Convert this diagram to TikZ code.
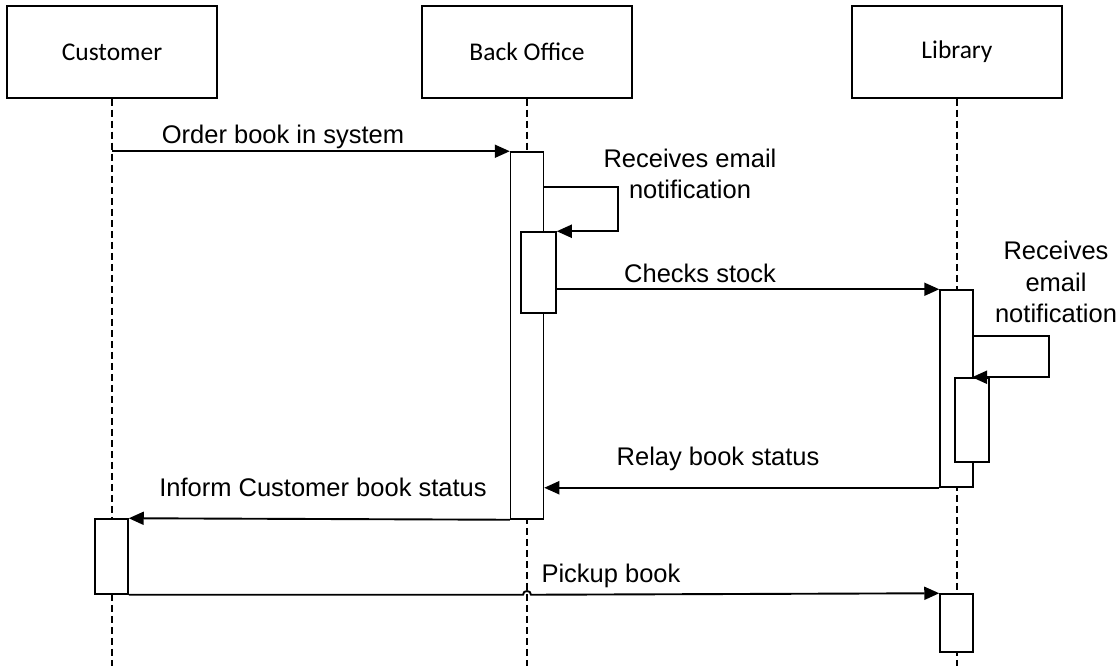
\documentclass[tikz,border=0pt]{standalone}
\usepackage{fontspec}
\setmainfont{Liberation Sans}
\newfontfamily\headfont{Carlito}
\usetikzlibrary{arrows.meta}
\begin{document}
\begin{tikzpicture}[x=1pt,y=-1pt]
    % Styles
    \tikzstyle{head}=[draw,line width=1.5pt,minimum width=210pt,minimum height=92pt,font=\headfont\fontsize{25.5}{30}\selectfont]
    \tikzstyle{lifeline}=[line width=1.5pt,dash pattern=on 7pt off 4pt]
    \tikzstyle{act}=[draw,fill=white,line width=1.5pt,minimum width=33pt,inner sep=0pt]
    \tikzstyle{msg}=[line width=1.9pt,-{Triangle[length=15pt,width=13pt]}]
    \tikzstyle{lbl}=[align=center,inner sep=0pt,font=\fontsize{25.5}{31.5}\selectfont]
    \useasboundingbox (0,0) rectangle (1119,666);
    %heads and lifelines
    \foreach \n/\x/\t in {cust/112/Customer,bo/527/Back Office,lib/957/Library}{
        \node[head] (\n) at (\x,52) {\t};
        \coordinate (\n end) at (\x,666);
        \draw[lifeline] (\n.south) -- (\n end);
    }
    %activations
    \node[act,minimum height=367pt] (bo1) at (527,335.5) {};
    \node[act,minimum width=35pt,minimum height=81pt] (bo2) at (538.5,272.5) {};
    \node[act,minimum height=197pt] (lib1) at (956.5,388.5) {};
    \node[act,minimum width=34pt,minimum height=84pt] (lib3) at (972,420) {};
    \node[act,minimum height=75pt] (cact) at (111.5,556.5) {};
    \node[act,minimum height=58pt] (lib4) at (956.5,623) {};
    %messages
    \draw[msg] (cust |- bo1.north) -- (bo1.north west);
    \node[lbl] (order) at (283,137) {Order book in system};
    \draw[msg] ([yshift=-36pt]bo1.north east) -- ++(74,0) |- (bo2.north east);
    \node[lbl] (mail1) at (690,174) {Receives email\\notification};
    \draw[msg] (bo2.east |- lib1.north) -- (lib1.north west);
    \node[lbl] (stock) at (700,273) {Checks stock};
    \draw[msg] ([yshift=-47pt]lib1.north east) -- ++(75,0) |- (lib3.north);
    \node[lbl] (mail2) at (1056,282) {Receives\\email\\notification};
    \draw[msg] (lib1.south west) -- (bo1.east |- lib1.south);
    \node[lbl] (relay) at (718,459) {Relay book status};
    \draw[msg] (bo1.south west) -- (cact.north east);
    \node[lbl] (inform) at (323,487) {Inform Customer book status};
    \coordinate (hop) at (bo |- cact.south);
    \draw[msg] (cact.south east) -- ([xshift=-4pt]hop) .. controls ([xshift=-4pt,yshift=5pt]hop) and ([xshift=4pt,yshift=5pt]hop) .. ([xshift=4pt]hop) -- (lib4.north west);
    \node[lbl] (pickup) at (611,576) {Pickup book};
\end{tikzpicture}
\end{document}
